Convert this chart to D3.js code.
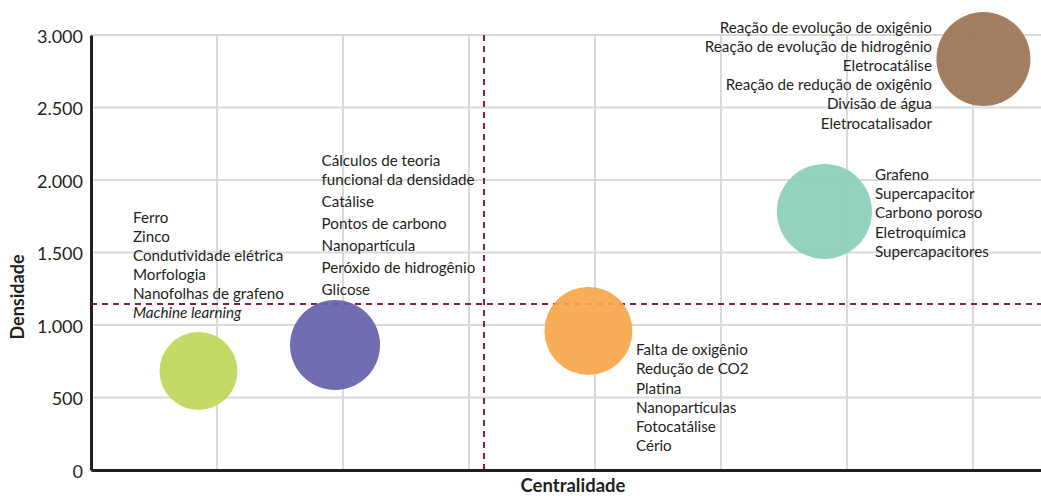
<!DOCTYPE html>
<html>
<head>
<meta charset="utf-8">
<script src="https://cdn.jsdelivr.net/npm/d3@7"></script>
<style>
  html, body { margin: 0; padding: 0; background: #ffffff; }
  svg { display: block; }
</style>
</head>
<body>
<svg id="chart" width="1041" height="496"></svg>
<script>
// ---- data ----
const clusters = ["Cluster 1", "Cluster 2", "Cluster 3", "Cluster 4", "Cluster 5"];
const centralidade = [0.853, 1.937, 3.948, 5.821, 7.083];
const densidade = [683, 862, 959, 1783, 2834];
const tamanho = [1520, 2025, 1936, 2256, 2209];
const termos = [
  ["Ferro", "Zinco", "Condutividade elétrica", "Morfologia", "Nanofolhas de grafeno", "Machine learning"],
  ["Cálculos de teoria\nfuncional da densidade", "Catálise", "Pontos de carbono", "Nanopartícula", "Peróxido de hidrogênio", "Glicose"],
  ["Falta de oxigênio", "Redução de CO2", "Platina", "Nanopartículas", "Fotocatálise", "Cério"],
  ["Grafeno", "Supercapacitor", "Carbono poroso", "Eletroquímica", "Supercapacitores"],
  ["Reação de evolução de oxigênio", "Reação de evolução de hidrogênio", "Eletrocatálise", "Reação de redução de oxigênio", "Divisão de água", "Eletrocatalisador"]
];
const termosItalicos = ["Machine learning"];
const yTicks = [0, 500, 1000, 1500, 2000, 2500, 3000];
const yTickLabels = ["0", "500", "1.000", "1.500", "2.000", "2.500", "3.000"];
const xTicks = [1, 2, 3, 4, 5, 6, 7];
const mediaCentralidade = 3.119;
const mediaDensidade = 1145;
const xMax = 7.54;
const yMax = 3000;

// ---- styles ----
const cores = ["#bfd75a", "#6562ab", "#f8a74c", "#8bcfb7", "#9c7455"];
// label layout per cluster: dx from bubble centre, dy of first baseline, anchor, line gap, item gap
const labelLayout = [
  { dx: -65.5, dy: -148, anchor: "start", line: 19.1, item: 19.1 },
  { dx: -13.5, dy: -179, anchor: "start", line: 19, item: 22 },
  { dx: 47.5, dy: 24.3, anchor: "start", line: 19.2, item: 19.2 },
  { dx: 50.5, dy: -31.5, anchor: "start", line: 19.2, item: 19.2 },
  { dx: -51.5, dy: -26, anchor: "end", line: 19.1, item: 19.1 }
];
const FONT = "Lato, 'Open Sans', sans-serif";

const svg = d3.select("#chart");
const x = d3.scaleLinear().domain([0, xMax]).range([91, 1041]);
const y = d3.scaleLinear().domain([0, yMax]).range([470, 35]);
const r = d3.scaleSqrt().domain([0, d3.max(tamanho)]).range([0, 47.5]);

// gridlines
const grid = svg.append("g");
grid.selectAll("line.h").data(yTicks.filter(d => d > 0)).join("line")
  .attr("x1", x(0)).attr("x2", x(xMax))
  .attr("y1", d => y(d)).attr("y2", d => y(d))
  .attr("stroke", "#dadada").attr("stroke-width", 2);
grid.selectAll("line.v").data(xTicks).join("line")
  .attr("x1", d => x(d)).attr("x2", d => x(d))
  .attr("y1", y(yMax)).attr("y2", y(0))
  .attr("stroke", "#dadada").attr("stroke-width", 2);

// mean lines
svg.append("line")
  .attr("x1", x(0)).attr("x2", x(xMax))
  .attr("y1", y(mediaDensidade)).attr("y2", y(mediaDensidade))
  .attr("stroke", "#8c1d3f").attr("stroke-width", 2).attr("stroke-dasharray", "6,5");
svg.append("line")
  .attr("x1", x(mediaCentralidade)).attr("x2", x(mediaCentralidade))
  .attr("y1", y(yMax)).attr("y2", y(0))
  .attr("stroke", "#8c1d3f").attr("stroke-width", 2).attr("stroke-dasharray", "6,5");

// bubbles
const data = clusters.map((c, i) => ({ c, cx: centralidade[i], dy: densidade[i], s: tamanho[i], col: cores[i], terms: termos[i], lay: labelLayout[i] }));
svg.append("g").selectAll("circle").data(data).join("circle")
  .attr("cx", d => x(d.cx)).attr("cy", d => y(d.dy)).attr("r", d => r(d.s))
  .attr("fill", d => d.col).attr("fill-opacity", 0.93);

// labels
data.forEach(d => {
  const g = svg.append("g");
  const bx = x(d.cx), by = y(d.dy);
  let yy = by + d.lay.dy;
  d.terms.forEach((t) => {
    const lines = t.split("\n");
    lines.forEach((ln, j) => {
      g.append("text")
        .attr("x", bx + d.lay.dx).attr("y", yy)
        .attr("text-anchor", d.lay.anchor)
        .attr("font-family", FONT).attr("font-size", 15.2)
        .attr("font-style", termosItalicos.includes(t) ? "italic" : "normal")
        .attr("fill", "#231f20")
        .text(ln);
      if (j < lines.length - 1) yy += d.lay.line;
    });
    yy += d.lay.item;
  });
});

// axes
const yAxis = d3.axisLeft(y).tickValues(yTicks).tickFormat((d, i) => yTickLabels[i]).tickSize(0).tickPadding(8);
const gy = svg.append("g").attr("transform", `translate(${x(0)},0)`).call(yAxis);
gy.select(".domain").attr("stroke", "#231f20").attr("stroke-width", 3);
gy.selectAll("text").attr("font-family", FONT).attr("font-size", 18).attr("fill", "#231f20").attr("dy", "0.4em");

const xAxis = d3.axisBottom(x).tickValues([]).tickSize(0);
const gx = svg.append("g").attr("transform", `translate(0,${y(0)})`).call(xAxis);
gx.select(".domain").attr("stroke", "#231f20").attr("stroke-width", 3);

// titles
svg.append("text")
  .attr("x", 573).attr("y", 492)
  .attr("text-anchor", "middle")
  .attr("font-family", FONT).attr("font-weight", "bold").attr("font-size", 18.5)
  .attr("fill", "#231f20").text("Centralidade");
svg.append("text")
  .attr("transform", "translate(24,297) rotate(-90)")
  .attr("text-anchor", "middle")
  .attr("font-family", FONT).attr("font-weight", "bold").attr("font-size", 18)
  .attr("fill", "#231f20").text("Densidade");
</script>
</body>
</html>
